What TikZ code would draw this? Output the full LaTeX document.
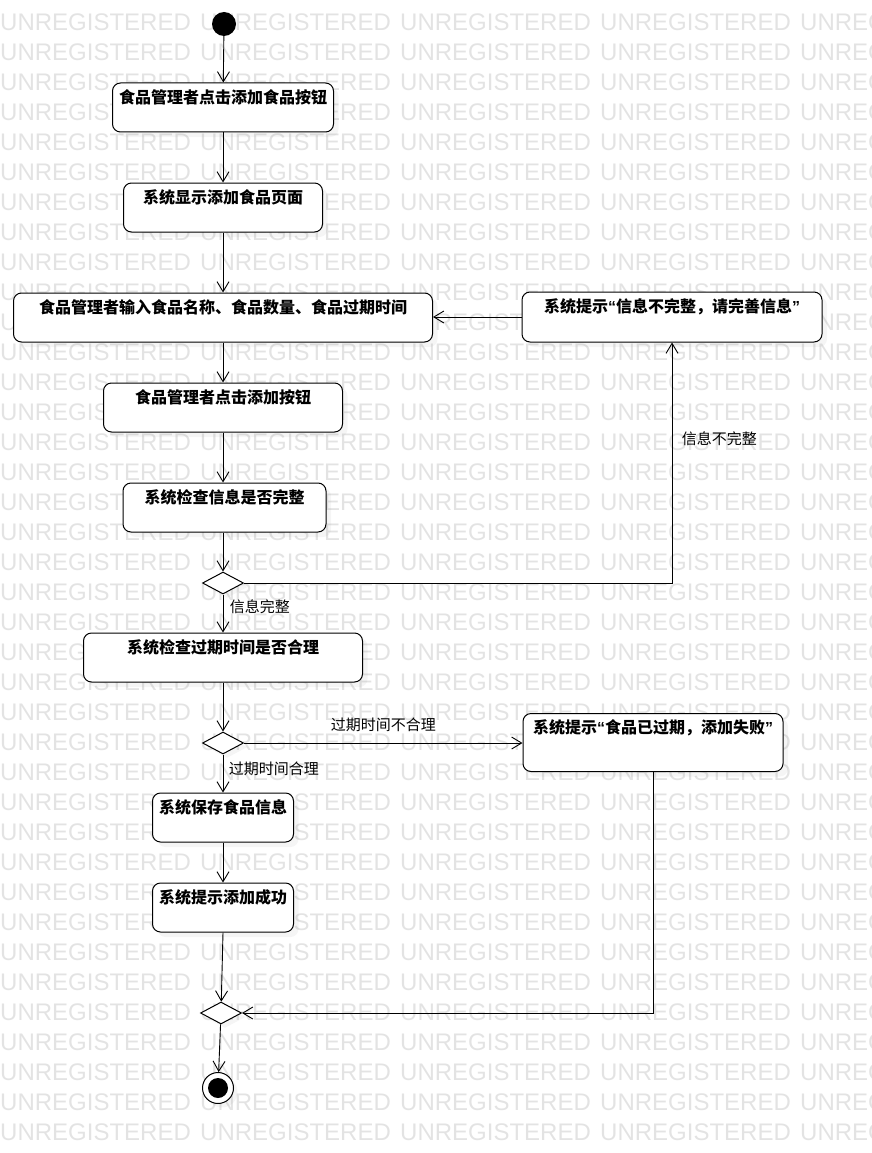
\documentclass[tikz,border=0pt]{standalone}
\usepackage{fontspec}
\setmainfont{Liberation Sans}
\newfontfamily\cjk{Noto Sans CJK SC}
\newfontfamily\latn{Liberation Sans}
\usetikzlibrary{arrows.meta,shapes.geometric,shadows}

\begin{document}
\begin{tikzpicture}[x=1pt, y=-1pt,
    wm/.style={anchor=west, inner sep=0, text=black!11, font=\fontsize{24pt}{26pt}\selectfont},
    act/.style={draw, fill=white, rounded corners=8pt, line width=1pt, inner xsep=0, inner ysep=0,
        text height=20pt, text depth=29pt, font={\cjk\bfseries\fontsize{16pt}{18pt}\selectfont},
        drop shadow={shadow xshift=5pt, shadow yshift=-5pt, opacity=0.08}},
    dec/.style={diamond, draw, fill=white, line width=1pt, inner sep=0, minimum width=41pt, minimum height=22pt,
        drop shadow={shadow xshift=4pt, shadow yshift=-4pt, opacity=0.08}},
    flow/.style={line width=0.9pt, -{Straight Barb[length=10pt, width=12pt]}},
    lbl/.style={font={\cjk\fontsize{15pt}{17pt}\selectfont}}]
    \useasboundingbox (0,0) rectangle (872,1153);

    % watermark rows
    \begin{scope}
        \clip (0,0) rectangle (872,1153);
        \foreach \r in {0,...,37}
            \foreach \c in {0,...,4}
                \node[wm] (wm-\r-\c) at (\c*200, 22+\r*30) {UNREGISTERED};
    \end{scope}

    \node[circle, fill=black, inner sep=0, minimum size=24pt] (start) at (224,24) {};
    \node[act, minimum width=221pt] (b1) at (223,107.5) {食品管理者点击添加食品按钮};
    \node[act, minimum width=199pt] (b2) at (223,207.5) {系统显示添加食品页面};
    \node[act, minimum width=419pt] (b3) at (223,317.5) {食品管理者输入食品名称、食品数量、食品过期时间};
    \node[act, minimum width=239pt] (b4) at (223,407.5) {食品管理者点击添加按钮};
    \node[act, minimum width=203pt] (b5) at (224.5,507.5) {系统检查信息是否完整};
    \node[dec] (d1) at (223,583) {};
    \node[act, minimum width=279pt] (b6) at (223,657.5) {系统检查过期时间是否合理};
    \node[dec] (d2) at (223,743) {};
    \node[act, minimum width=141pt] (b8) at (223,817.5) {系统保存食品信息};
    \node[act, minimum width=141pt] (b9) at (223,907.5) {系统提示添加成功};
    \node[dec] (d3) at (221,1013) {};
    \node[circle, draw, fill=white, line width=1pt, inner sep=0, minimum size=31pt,
        drop shadow={shadow xshift=4pt, shadow yshift=-4pt, opacity=0.08}] (end) at (218,1088) {};
    \fill (end.center) circle (10pt);

    \node[act, minimum width=300pt, text depth=30pt] (r1) at (672,317) {系统提示{\latn“}信息不完整，请完善信息{\latn”}};
    \node[act, minimum width=260pt, text depth=38pt] (r2) at (653,742.5) {系统提示{\latn“}食品已过期，添加失败{\latn”}};

    \draw[flow] (start) -- (b1);
    \draw[flow] (b1) -- (b2);
    \draw[flow] (b2) -- (b3);
    \draw[flow] (b3) -- (b4);
    \draw[flow] (b4.south) -- (b4.south |- b5.north);
    \draw[flow] (b5.south -| d1) -- (d1);
    \draw[flow] (d1) -- node[lbl, right, pos=0.33, xshift=3pt] {信息完整} (b6);
    \draw[flow] (d1.east) -| node[lbl, right, pos=0.8, xshift=6pt] {信息不完整} (r1.south);
    \draw[flow] (r1.west) -- (b3.east |- r1.west);
    \draw[flow] (b6) -- (d2);
    \draw[flow] (d2.east) -- node[lbl, above, yshift=7pt] {过期时间不合理} (d2.east -| r2.west);
    \draw[flow] (d2) -- node[lbl, right, pos=0.38, xshift=2pt] {过期时间合理} (b8);
    \draw[flow] (b8) -- (b9);
    \draw[flow] (b9.south) -- (d3);
    \draw[flow] (r2.south) |- (d3.east);
    \draw[flow] (d3) -- (end);
\end{tikzpicture}
\end{document}
